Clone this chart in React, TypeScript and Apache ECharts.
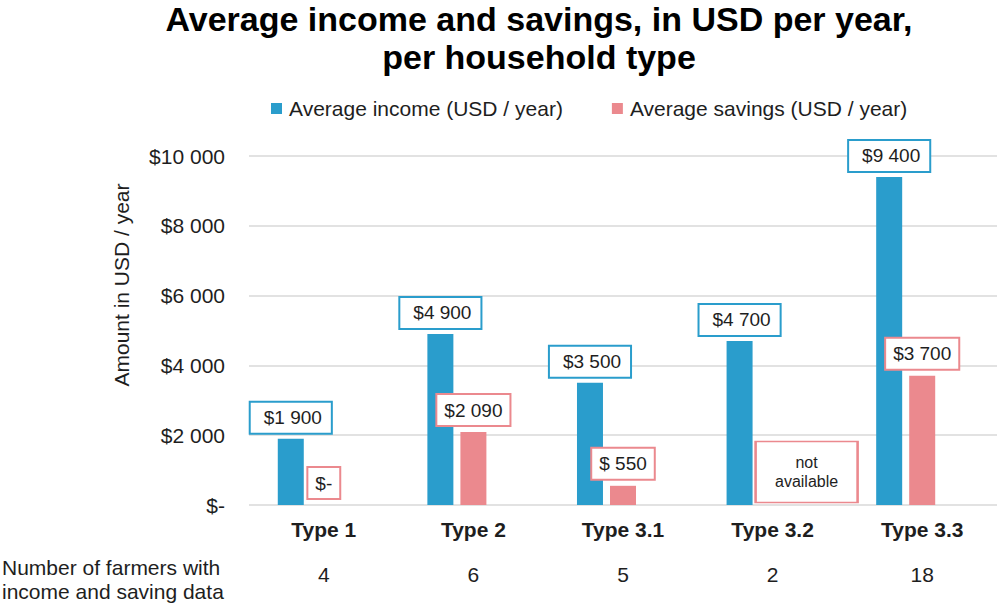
import React, { useEffect, useRef } from "react";
import * as echarts from "echarts";

const categories = ["Type 1", "Type 2", "Type 3.1", "Type 3.2", "Type 3.3"];
const incomeValues = [1900, 4900, 3500, 4700, 9400];
const savingsValues: (number | null)[] = [0, 2090, 550, null, 3700];
const farmerCounts = [4, 6, 5, 2, 18];
const yTicks = { min: 0, max: 10000, interval: 2000 };
const seriesNames = ["Average income (USD / year)", "Average savings (USD / year)"];
const notAvailableCategory = "Type 3.2";

const BLUE = "#2a9dcc";
const PINK = "#eb898e";
const FONT = "'Liberation Sans', Arial, sans-serif";
const TEXT = "#1e1e1e";

function usd(v: number): string {
  if (v === 0) return "$-";
  const s = Math.round(v).toString();
  if (v < 1000) return "$ " + s;
  return "$" + s.replace(/\B(?=(\d{3})+(?!\d))/g, " ");
}

export default function App() {
  const ref = useRef<HTMLDivElement>(null);
  useEffect(() => {
    document.body.style.margin = "0";
    const chart = echarts.init(ref.current!, null, { renderer: "svg" });
    const labelBase = {
      show: true,
      position: "top" as const,
      distance: 6,
      fontSize: 19,
      fontFamily: FONT,
      color: TEXT,
      backgroundColor: "#fff",
      borderWidth: 2,
      lineHeight: 20,
      formatter: (p: any) => usd(p.value),
    };
    chart.setOption({
      animation: false,
      backgroundColor: "#fff",
      textStyle: { fontFamily: FONT },
      legend: {
        data: seriesNames,
        left: 266,
        top: 93,
        itemWidth: 11,
        itemHeight: 11,
        itemGap: 49,
        icon: "rect",
        textStyle: { fontSize: 21, color: TEXT, fontFamily: FONT, padding: [0, 0, 0, 2] },
      },
      grid: { left: 249, right: 4, top: 156, bottom: 99, containLabel: false },
      xAxis: [
        {
          type: "category",
          data: categories,
          axisLine: { show: false },
          axisTick: { show: false },
          axisLabel: { fontSize: 21, fontWeight: "bold", color: TEXT, fontFamily: FONT, margin: 14 },
        },
        {
          type: "category",
          position: "bottom",
          offset: 45,
          data: farmerCounts.map(String),
          axisLine: { show: false },
          axisTick: { show: false },
          axisLabel: { fontSize: 21, color: TEXT, fontFamily: FONT, margin: 14 },
        },
      ],
      yAxis: {
        type: "value",
        min: yTicks.min,
        max: yTicks.max,
        interval: yTicks.interval,
        axisLine: { show: false },
        axisTick: { show: false },
        splitLine: { lineStyle: { color: "#d9d9d9", width: 1.5 } },
        axisLabel: { fontSize: 21, color: TEXT, fontFamily: FONT, margin: 24, formatter: (v: number) => usd(v) },
      },
      series: [
        {
          name: seriesNames[0],
          type: "bar",
          data: incomeValues,
          barWidth: 26,
          barGap: "27%",
          itemStyle: { color: BLUE },
          label: { ...labelBase, borderColor: BLUE, padding: [5, 9, 5, 13] },
        },
        {
          name: seriesNames[1],
          type: "bar",
          data: savingsValues,
          barWidth: 26,
          barGap: "27%",
          itemStyle: { color: PINK },
          label: { ...labelBase, distance: 7, borderColor: PINK, padding: [5, 7, 5, 7] },
          markPoint: {
            symbol: "rect",
            symbolSize: [102, 61],
            symbolOffset: [34, -33],
            itemStyle: { color: "#fff", borderColor: PINK, borderWidth: 2 },
            label: {
              show: true,
              position: "inside",
              formatter: "not\navailable",
              fontSize: 16,
              lineHeight: 19,
              color: TEXT,
              fontFamily: FONT,
            },
            data: [{ coord: [notAvailableCategory, 0] }],
          },
        },
        {
          name: "spacer",
          type: "bar",
          data: categories.map(() => null),
          barWidth: 26,
          barGap: "27%",
        },
      ],
      graphic: [
        {
          type: "text",
          x: 539,
          y: 0,
          style: {
            text: "Average income and savings, in USD per year,\nper household type",
            font: `bold 34px ${FONT}`,
            fill: "#000",
            textAlign: "center",
            textVerticalAlign: "top",
            lineHeight: 38,
          },
        },
        {
          type: "text",
          x: 121,
          y: 285,
          rotation: Math.PI / 2,
          style: {
            text: "Amount in USD / year",
            font: `21px ${FONT}`,
            fill: TEXT,
            textAlign: "center",
            textVerticalAlign: "middle",
          },
        },
        {
          type: "text",
          x: 2,
          y: 555,
          style: {
            text: "Number of farmers with\nincome and saving data",
            font: `21px ${FONT}`,
            fill: TEXT,
            lineHeight: 24,
          },
        },
      ],
    });
    return () => chart.dispose();
  }, []);
  return <div ref={ref} style={{ width: 1001, height: 604 }} />;
}
